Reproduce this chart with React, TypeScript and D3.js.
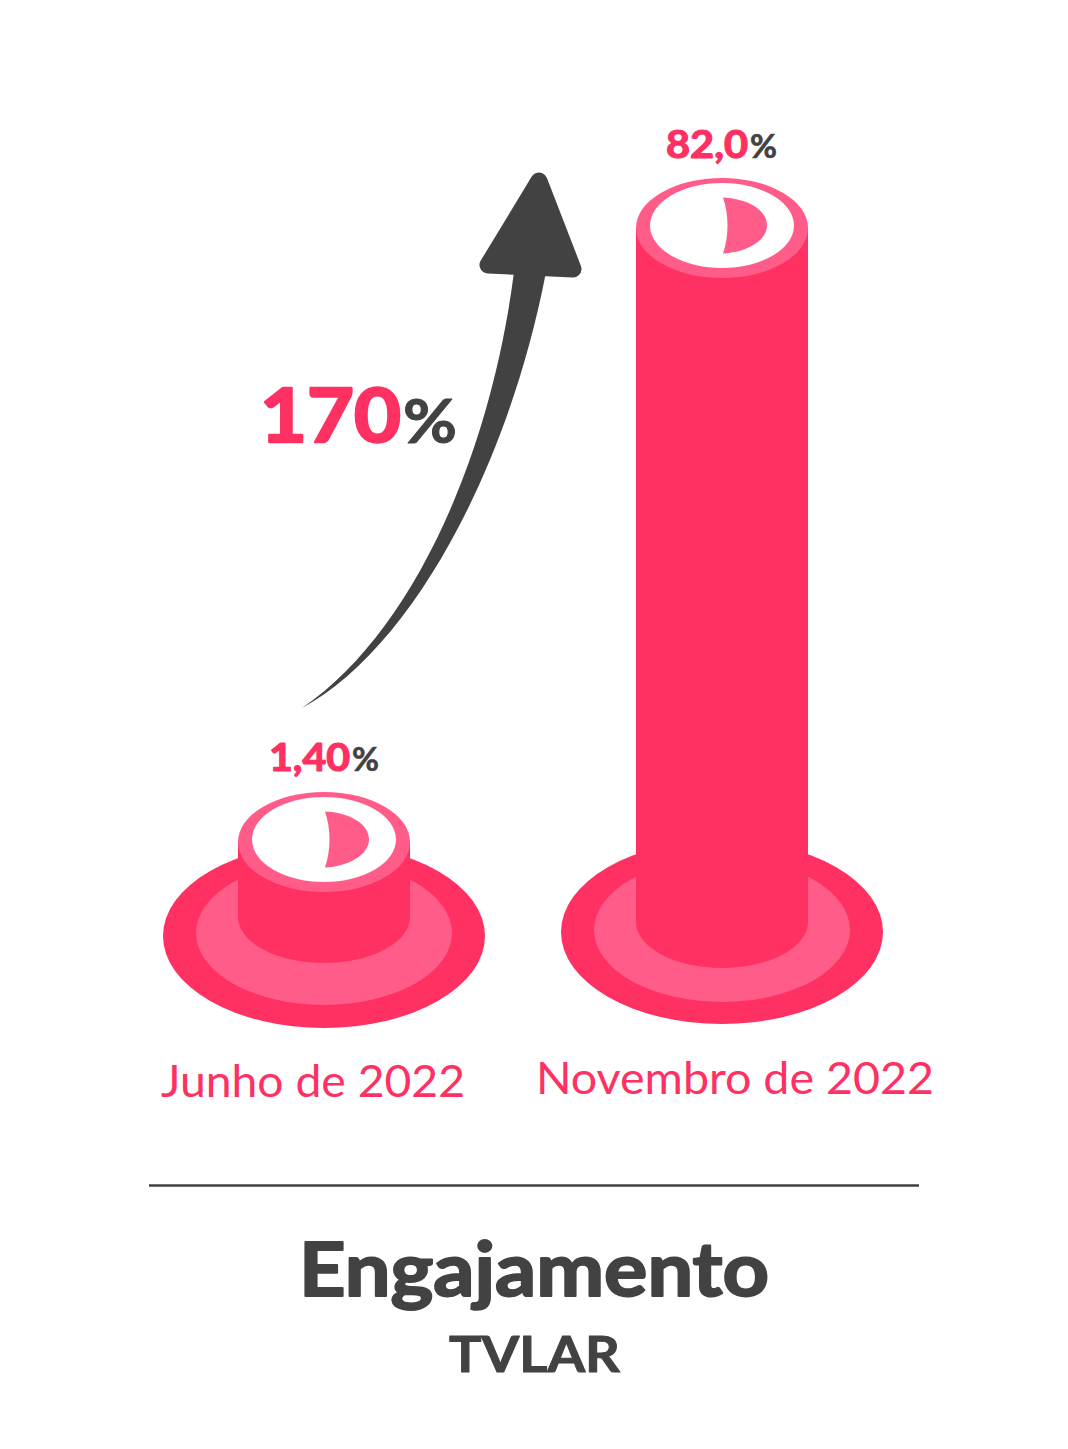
import React from "react";
import * as d3 from "d3";

const categories = ["Junho de 2022", "Novembro de 2022"];
const valueLabels = ["1,40", "82,0"];
const barValues = [1.4, 82.0];
const barCenters = [324, 722];
const PINK = "#ff3162";
const LIGHT = "#ff5c89";
const DARK = "#424242";
const FONT = "Lato, 'Noto Sans', sans-serif";

function T({ x, y, w, size, fill, weight, bold, children }: any) {
  return (
    <text x={x} y={y} fontFamily={FONT} fontSize={size} fontWeight={weight} fill={fill}
      stroke={bold ? fill : "none"} strokeWidth={bold || 0} strokeLinejoin="round"
      textLength={w} lengthAdjust="spacingAndGlyphs">{children}</text>
  );
}

function Bar({ i, y }: any) {
  const cx = barCenters[i];
  const baseCy = i === 0 ? 936 : 932;
  const innerCy = i === 0 ? 933 : 930;
  const footCy = i === 0 ? 917 : 922;
  const topCy = y(barValues[i]);
  const rx = 86;
  const sideD = `M${cx - rx},${topCy}L${cx - rx},${footCy}A${rx},46 0 0 0 ${cx + rx},${footCy}L${cx + rx},${topCy}Z`;
  const wy = topCy - 2.5;
  const wedge = `M${cx + 1},${wy - 28}C${cx + 25},${wy - 27} ${cx + 45},${wy - 16} ${cx + 45},${wy}C${cx + 45},${wy + 15} ${cx + 25},${wy + 27} ${cx + 1},${wy + 28}C${cx + 7},${wy + 10} ${cx + 7},${wy - 10} ${cx + 1},${wy - 28}Z`;
  return (
    <g>
      <ellipse cx={cx} cy={baseCy} rx={161} ry={92} fill={PINK} />
      <ellipse cx={cx} cy={innerCy} rx={128} ry={72} fill={LIGHT} />
      <path d={sideD} fill={PINK} />
      <ellipse cx={cx} cy={topCy} rx={rx} ry={50} fill={LIGHT} />
      <ellipse cx={cx} cy={wy} rx={72} ry={42.5} fill="#fff" />
      <path d={wedge} fill={LIGHT} />
    </g>
  );
}

export default function App() {
  const y = d3.scaleLinear().domain([1.4, 82]).range([842, 228]);
  const shaft = d3.path();
  shaft.moveTo(302, 708);
  shaft.bezierCurveTo(410, 635, 490, 460, 514, 272);
  shaft.lineTo(546, 272);
  shaft.bezierCurveTo(508, 470, 410, 650, 302, 708);
  shaft.closePath();
  return (
    <svg width={1068} height={1449} style={{ position: "absolute", left: 0, top: 0, background: "#fff" }}>
      <Bar i={0} y={y} />
      <Bar i={1} y={y} />
      <path d={shaft.toString()} fill={DARK} />
      <path d="M539,181L488,265L573,269Z" fill={DARK} stroke={DARK} strokeWidth={17} strokeLinejoin="round" />
      <T x={666} y={158} w={82} size={38} fill={PINK} weight={700} bold={1.2}>{valueLabels[1]}</T>
      <T x={750} y={158} w={27} size={32} fill={DARK} weight={700} bold={0.6}>%</T>
      <T x={269} y={771} w={81} size={38} fill={PINK} weight={700} bold={1.2}>{valueLabels[0]}</T>
      <T x={352} y={771} w={27} size={32} fill={DARK} weight={700} bold={0.6}>%</T>
      <T x={260} y={442} w={141} size={74} fill={PINK} weight={700} bold={2.5}>170</T>
      <T x={403} y={443} w={54} size={62} fill={DARK} weight={700} bold={1}>%</T>
      <T x={161} y={1097} w={304} size={45} fill={PINK} weight={400}>{categories[0]}</T>
      <T x={536} y={1094} w={398} size={45} fill={PINK} weight={400}>{categories[1]}</T>
      <line x1={149} x2={919} y1={1185.5} y2={1185.5} stroke={DARK} strokeWidth={2.5} />
      <T x={299} y={1296} w={470} size={74} fill={DARK} weight={700} bold={2}>Engajamento</T>
      <T x={449} y={1372} w={171} size={50} fill={DARK} weight={700} bold={1}>TVLAR</T>
    </svg>
  );
}
